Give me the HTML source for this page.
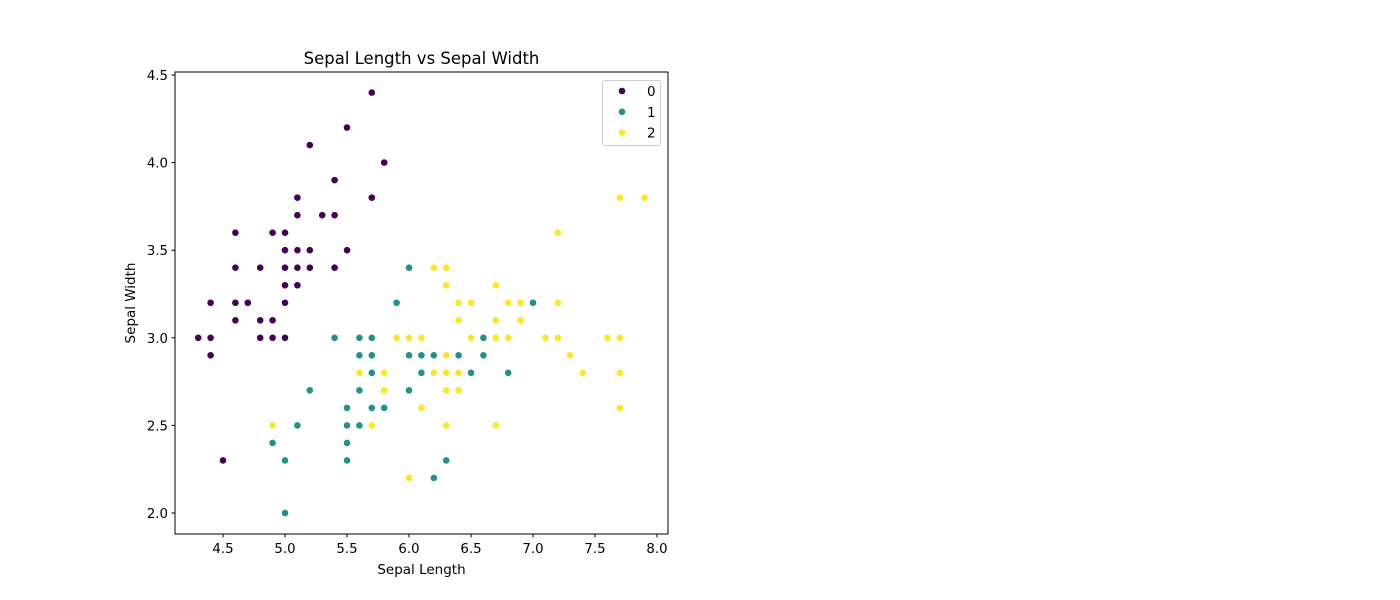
<!DOCTYPE html>
<html><head><meta charset="utf-8"><style>
body{margin:0;background:#fff;}
svg{display:block;font-family:"DejaVu Sans","Liberation Sans",sans-serif;}
</style></head><body>
<svg id="chart" width="1400" height="600">
<rect width="1400" height="600" fill="#fff"/>
</svg>
<script>
const setosaX=[5.1,4.9,4.7,4.6,5.0,5.4,4.6,5.0,4.4,4.9,5.4,4.8,4.8,4.3,5.8,5.7,5.4,5.1,5.7,5.1,5.4,5.1,4.6,5.1,4.8,5.0,5.0,5.2,5.2,4.7,4.8,5.4,5.2,5.5,4.9,5.0,5.5,4.9,4.4,5.1,5.0,4.5,4.4,5.0,5.1,4.8,5.1,4.6,5.3,5.0];
const setosaY=[3.5,3.0,3.2,3.1,3.6,3.9,3.4,3.4,2.9,3.1,3.7,3.4,3.0,3.0,4.0,4.4,3.9,3.5,3.8,3.8,3.4,3.7,3.6,3.3,3.4,3.0,3.4,3.5,3.4,3.2,3.1,3.4,4.1,4.2,3.1,3.2,3.5,3.6,3.0,3.4,3.5,2.3,3.2,3.5,3.8,3.0,3.8,3.2,3.7,3.3];
const versiX=[7.0,6.4,6.9,5.5,6.5,5.7,6.3,4.9,6.6,5.2,5.0,5.9,6.0,6.1,5.6,6.7,5.6,5.8,6.2,5.6,5.9,6.1,6.3,6.1,6.4,6.6,6.8,6.7,6.0,5.7,5.5,5.5,5.8,6.0,5.4,6.0,6.7,6.3,5.6,5.5,5.5,6.1,5.8,5.0,5.6,5.7,5.7,6.2,5.1,5.7];
const versiY=[3.2,3.2,3.1,2.3,2.8,2.8,3.3,2.4,2.9,2.7,2.0,3.0,2.2,2.9,2.9,3.1,3.0,2.7,2.2,2.5,3.2,2.8,2.5,2.8,2.9,3.0,2.8,3.0,2.9,2.6,2.4,2.4,2.7,2.7,3.0,3.4,3.1,2.3,3.0,2.5,2.6,3.0,2.6,2.3,2.7,3.0,2.9,2.9,2.5,2.8];
const virgX=[6.3,5.8,7.1,6.3,6.5,7.6,4.9,7.3,6.7,7.2,6.5,6.4,6.8,5.7,5.8,6.4,6.5,7.7,7.7,6.0,6.9,5.6,7.7,6.3,6.7,7.2,6.2,6.1,6.4,7.2,7.4,7.9,6.4,6.3,6.1,7.7,6.3,6.4,6.0,6.9,6.7,6.9,5.8,6.8,6.7,6.7,6.3,6.5,6.2,5.9];
const virgY=[3.3,2.7,3.0,2.9,3.0,3.0,2.5,2.9,2.5,3.6,3.2,2.7,3.0,2.5,2.8,3.2,3.0,3.8,2.6,2.2,3.2,2.8,2.8,2.7,3.3,3.2,2.8,3.0,2.8,3.0,2.8,3.8,2.8,2.8,2.6,3.0,3.4,3.1,3.0,3.1,3.1,3.1,2.7,3.2,3.3,3.0,2.5,3.0,3.4,3.0];
const classLabels=["0","1","2"];
const xTicks=[4.5,5.0,5.5,6.0,6.5,7.0,7.5,8.0];
const yTicks=[2.0,2.5,3.0,3.5,4.0,4.5];

const NS="http://www.w3.org/2000/svg";
const svg=document.getElementById('chart');
const L=175,R=668,T=72,B=534;
const xs=v=>223+(v-4.5)*124;
const ys=v=>513-(v-2.0)*175.2;
function mk(tag,attrs,parent){const e=document.createElementNS(NS,tag);for(const k in attrs)e.setAttribute(k,attrs[k]);(parent||svg).appendChild(e);return e;}

const series=[{x:setosaX,y:setosaY,c:"#440154"},{x:versiX,y:versiY,c:"#21918c"},{x:virgX,y:virgY,c:"#fde725"}];
const pts=mk('g',{});


series.forEach((s,si)=>{
  s.x.forEach((v,i)=>{
    const c=mk('circle',{cx:xs(v),cy:ys(s.y[i]),r:3.6,fill:s.c,stroke:"#fff","stroke-width":0.6},pts);
    
    
  });
});

const frame=mk('rect',{x:L,y:T,width:R-L,height:B-T,fill:"none",stroke:"#000","stroke-width":1});



xTicks.forEach(t=>{
  const x=xs(t);
  mk('line',{x1:x,x2:x,y1:B,y2:B+3.5,stroke:"#000"});
  const tx=mk('text',{x:x,y:B+19,"text-anchor":"middle","font-size":"13.3"});
  tx.textContent=t.toFixed(1);
  
  
});
yTicks.forEach(t=>{
  const y=ys(t);
  mk('line',{x1:L,x2:L-3.5,y1:y,y2:y,stroke:"#000"});
  const tx=mk('text',{x:L-7,y:y+5,"text-anchor":"end","font-size":"13.3"});
  tx.textContent=t.toFixed(1);
  
  
});

const title=mk('text',{x:421.5,y:64,"text-anchor":"middle","font-size":"16.5"});
title.textContent="Sepal Length vs Sepal Width";


const xl=mk('text',{x:421.5,y:574,"text-anchor":"middle","font-size":"13.5"});
xl.textContent="Sepal Length";


const yl=mk('text',{x:135,y:303,"text-anchor":"middle","font-size":"13.5",transform:"rotate(-90 135 303)"});
yl.textContent="Sepal Width";



const lg=mk('g',{});


mk('rect',{x:602.5,y:80.5,width:58,height:65,rx:2.5,fill:"#fff","fill-opacity":0.8,stroke:"#ccc"},lg);
classLabels.forEach((lab,i)=>{
  const y=91+i*20.8;
  const e=mk('g',{},lg);
  
  
  mk('circle',{cx:622,cy:y,r:3.6,fill:series[i].c,stroke:"#fff","stroke-width":0.6},e);
  const t=mk('text',{x:647,y:y+5,"font-size":"13.5"},e);
  t.textContent=lab;
});
</script>
</body></html>
